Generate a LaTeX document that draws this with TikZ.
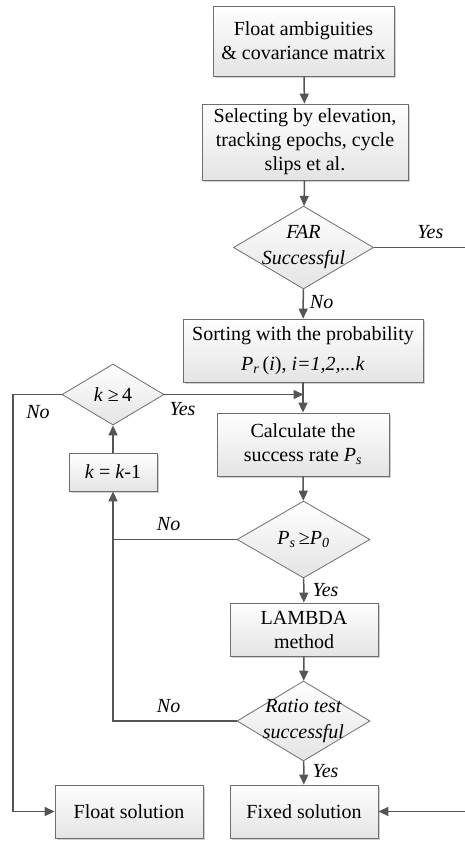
\documentclass[tikz,border=0pt]{standalone}
\usepackage{fontspec}
\setmainfont{Liberation Serif}
\usetikzlibrary{shapes.geometric,arrows.meta,shadows}
\definecolor{linec}{RGB}{85,85,85}
\definecolor{edgec}{RGB}{110,110,110}
\definecolor{fillb}{RGB}{228,228,228}
\begin{document}
\begin{tikzpicture}[x=1pt,y=-1pt,
  font=\fontsize{20}{24}\selectfont,
  every node/.style={inner sep=0pt},
  boxstyle/.style={draw=edgec, line width=0.8pt, top color=white, bottom color=fillb,
    align=center, rectangle,
    drop shadow={shadow xshift=1.5pt, shadow yshift=-1.5pt, opacity=0.18, fill=black}},
  decision/.style={draw=edgec, line width=0.8pt, diamond, top color=white, bottom color=fillb},
  dtext/.style={align=center, font=\fontsize{20}{26}\selectfont\itshape},
  flow/.style={draw=linec, line width=1.5pt},
  arr/.style={flow, -{Triangle[length=10pt,width=9pt]}},
  lbl/.style={font=\fontsize{20}{24}\selectfont\itshape}
]
\useasboundingbox (0,0) rectangle (465,841);

% process boxes
\node[boxstyle, minimum width=181pt, minimum height=70pt] (init) at (303.5,41)
  {Float ambiguities\\\& covariance matrix};
\node[boxstyle, minimum width=206pt, minimum height=76pt] (select) at (305,142)
  {Selecting by elevation,\\tracking epochs, cycle\\slips et al.};
\node[decision, minimum width=140pt, minimum height=83pt,
  label={[dtext]center:FAR\\Successful}] (far) at (303.5,247.5) {};
\node[boxstyle, minimum width=240pt, minimum height=63pt] (sort) at (303,350.5)
  {Sorting with the probability\\[6pt]\textit{P\textsubscript{r}}\,(\textit{i}), \textit{i=1,2,...k}};
\node[decision, minimum width=102pt, minimum height=61pt,
  label={[font=\fontsize{20}{24}\selectfont]center:\textit{k} ≥\,4}] (kdec) at (113,394.5) {};
\node[boxstyle, minimum width=172pt, minimum height=63pt] (calc) at (303,444.5)
  {Calculate the\\success rate \textit{P\textsubscript{s}}};
\node[boxstyle, minimum width=88pt, minimum height=38pt] (kbox) at (113,472)
  {\textit{k} = \textit{k}-1};
\node[decision, minimum width=133pt, minimum height=77pt,
  label={[font=\fontsize{20}{24}\selectfont]center:\textit{P\textsubscript{s}}\,≥\textit{P\textsubscript{0}}}] (ps) at (303.5,539.5) {};
\node[boxstyle, minimum width=148pt, minimum height=53pt] (lambda) at (304,629.5)
  {LAMBDA\\method};
\node[decision, minimum width=133pt, minimum height=80pt,
  label={[dtext]center:Ratio test\\successful}] (ratio) at (303.5,721) {};
\node[boxstyle, minimum width=148pt, minimum height=53pt] (floatsol) at (129,811.5)
  {Float solution};
\node[boxstyle, minimum width=148pt, minimum height=53pt] (fixedsol) at (304,811.5)
  {Fixed solution};

% free ends and junctions
\coordinate (farout) at (465,247.5);
\coordinate (fixin) at (465,811.5);
\coordinate (merge) at (303.5,394.5);
\coordinate (leftrail) at (13,394.5);
\coordinate (loopjoin) at (113,539.5);
\coordinate (loopcorner) at (113,721);

% main column
\draw[arr] (init) -- (select);
\draw[arr] (select) -- (far);
\draw[arr] (far) -- node[lbl, right=6pt, pos=0.45] {No} (sort);
\draw[arr] (sort) -- (calc);
\draw[arr] (calc) -- (ps);
\draw[arr] (ps) -- node[lbl, right=8pt, pos=0.5] {Yes} (lambda);
\draw[arr] (lambda) -- (ratio);
\draw[arr] (ratio) -- node[lbl, right=8pt, pos=0.4] {Yes} (fixedsol);

% FAR success branch
\draw[flow] (far.east) -- node[lbl, above=8pt, pos=0.62] {Yes} (farout);
\draw[arr] (fixin) -- (fixedsol.east);

% retry loop
\draw[arr] (kdec.east) -- node[lbl, below=7pt, pos=0.13] {Yes} (merge);
\draw[arr] (kdec.west) -- (leftrail) |- (floatsol.west);
\node[lbl] at (38,412) {No};
\draw[flow] (ps.west) -- node[lbl, above=8pt, pos=0.55] {No} (loopjoin);
\draw[flow] (ratio.west) -- node[lbl, above=8pt, pos=0.55] {No} (loopcorner) -- (loopjoin);
\draw[arr] (loopjoin) -- (kbox.south);
\draw[arr] (kbox.north) -- (kdec.south);
\end{tikzpicture}
\end{document}
